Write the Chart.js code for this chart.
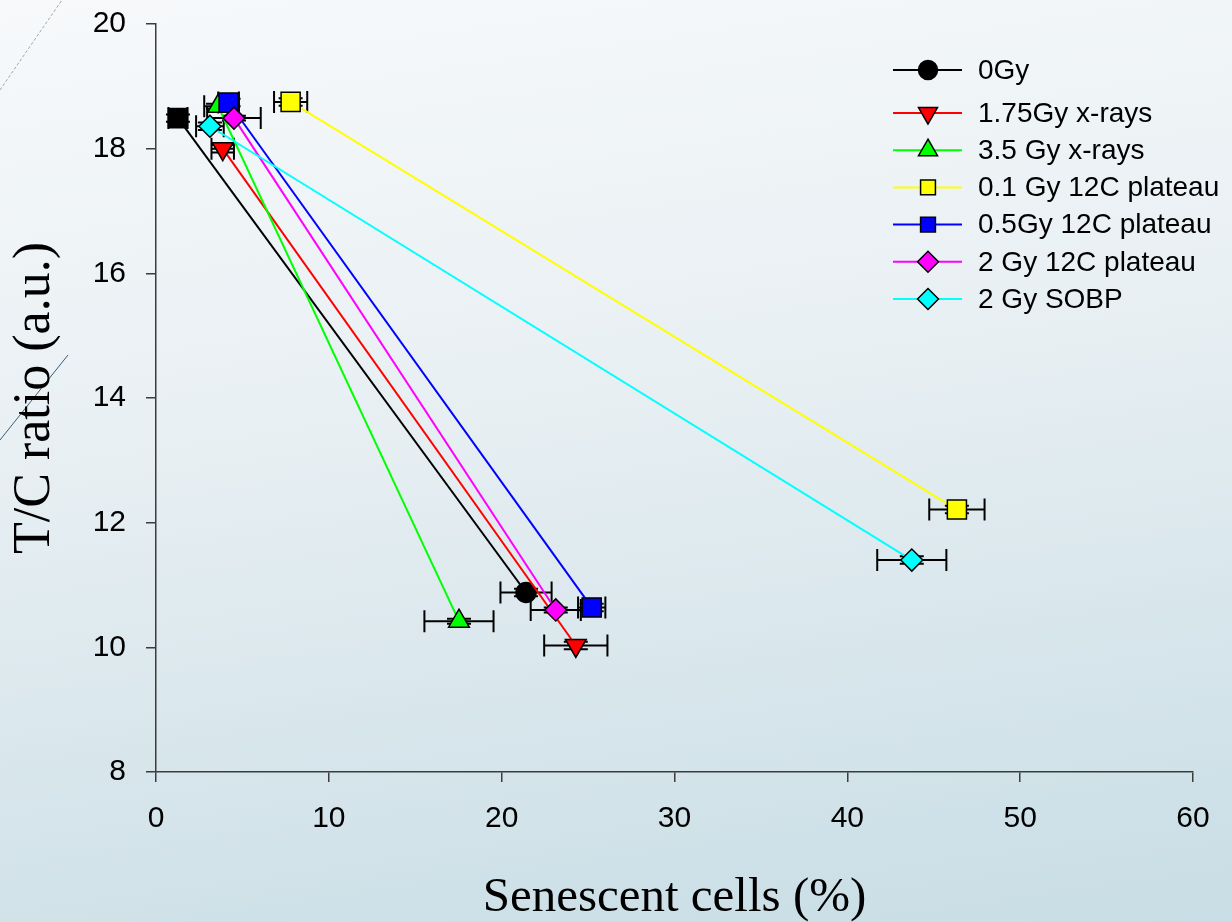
<!DOCTYPE html>
<html>
<head>
<meta charset="utf-8">
<title>T/C ratio vs senescent cells</title>
<script src="https://cdn.jsdelivr.net/npm/chart.js@4.4.1/dist/chart.umd.min.js"></script>
<style>
  html, body { margin: 0; padding: 0; }
  body {
    width: 1232px;
    height: 922px;
    overflow: hidden;
    background: linear-gradient(172deg, #f7f9fb 0%, #e9f0f3 40%, #c8dde5 100%);
  }
  canvas { display: block; }
</style>
</head>
<body>
<canvas id="tcChart" width="1232" height="922"></canvas>
<script>
// dose groups
const seriesNames = ['0Gy', '1.75Gy x-rays', '3.5 Gy x-rays', '0.1 Gy 12C plateau', '0.5Gy 12C plateau', '2 Gy 12C plateau', '2 Gy SOBP'];
const seriesColors = ['#000000', '#ff0000', '#00ff00', '#ffff00', '#0000ff', '#ff00ff', '#00ffff'];
const markerStyles = ['circle', 'triangle', 'triangle', 'rect', 'rect', 'rectRot', 'rectRot'];
const markerRotation = [0, 180, 0, 0, 0, 0, 0];

// early time point (x = senescent cells %, y = T/C ratio)
const senescentEarly = [1.27, 3.86, 3.59, 7.79, 4.20, 4.51, 3.12];
const ratioEarly = [18.49, 18.00, 18.68, 18.75, 18.74, 18.49, 18.36];
const senescentEarlyErr = [0.55, 0.65, 0.8, 0.96, 0.6, 1.55, 0.8];

// late time point
const senescentLate = [21.41, 24.29, 17.53, 46.34, 25.21, 23.13, 43.73];
const ratioLate = [10.88, 10.03, 10.42, 12.21, 10.64, 10.60, 11.40];
const senescentLateErr = [1.48, 1.83, 2.0, 1.6, 0.79, 1.45, 2.0];

// T/C ratio errors (small)
const ratioErr = [0.06, 0.06, 0.04, 0.06, 0.06, 0.04, 0.06];

const markerSize = { circle: 10, triangle: 12, rect: 13.5, rectRot: 11 };

const datasets = seriesNames.map((name, i) => ({
    label: name,
    data: [
        { x: senescentEarly[i], y: ratioEarly[i], xErr: senescentEarlyErr[i], yErr: ratioErr[i] },
        { x: senescentLate[i], y: ratioLate[i], xErr: senescentLateErr[i], yErr: ratioErr[i] }
    ],
    showLine: true,
    borderColor: seriesColors[i],
    borderWidth: 2,
    backgroundColor: seriesColors[i],
    pointBackgroundColor: seriesColors[i],
    pointBorderColor: '#000',
    pointBorderWidth: 1.5,
    // untreated control at the first time point is plotted as a square
    pointStyle: i === 0 ? ['rect', 'circle'] : markerStyles[i],
    pointRadius: i === 0 ? [markerSize.rect, markerSize.circle] : markerSize[markerStyles[i]],
    rotation: markerRotation[i],
    order: seriesNames.length - i
}));

// thin slide decoration lines on the left
const backdrop = {
    id: 'backdrop',
    beforeDraw(chart) {
        const ctx = chart.ctx;
        ctx.save();
        ctx.lineWidth = 1;
        ctx.strokeStyle = '#9aa9b4';
        ctx.setLineDash([3, 2]);
        ctx.beginPath();
        ctx.moveTo(0, 90);
        ctx.lineTo(62, 0);
        ctx.stroke();
        ctx.setLineDash([]);
        ctx.strokeStyle = '#3d5c74';
        ctx.beginPath();
        ctx.moveTo(0, 440);
        ctx.lineTo(68, 355);
        ctx.stroke();
        ctx.restore();
    }
};

// horizontal and vertical error bars with caps
const errorBars = {
    id: 'errorBars',
    beforeDatasetsDraw(chart) {
        const { ctx, scales: { x, y } } = chart;
        ctx.save();
        ctx.strokeStyle = '#000';
        ctx.lineWidth = 2;
        chart.data.datasets.forEach(ds => {
            ds.data.forEach(p => {
                const cx = x.getPixelForValue(p.x);
                const cy = y.getPixelForValue(p.y);
                const x0 = x.getPixelForValue(p.x - p.xErr);
                const x1 = x.getPixelForValue(p.x + p.xErr);
                const y0 = y.getPixelForValue(p.y - p.yErr);
                const y1 = y.getPixelForValue(p.y + p.yErr);
                ctx.beginPath();
                ctx.moveTo(x0, cy); ctx.lineTo(x1, cy);
                ctx.moveTo(x0, cy - 11); ctx.lineTo(x0, cy + 11);
                ctx.moveTo(x1, cy - 11); ctx.lineTo(x1, cy + 11);
                ctx.moveTo(cx, y0); ctx.lineTo(cx, y1);
                ctx.moveTo(cx - 12, y0); ctx.lineTo(cx + 12, y0);
                ctx.moveTo(cx - 12, y1); ctx.lineTo(cx + 12, y1);
                ctx.stroke();
            });
        });
        ctx.restore();
    }
};

// legend with a line sample through each marker
const lineLegend = {
    id: 'lineLegend',
    afterDraw(chart) {
        const ctx = chart.ctx;
        const legendRadius = { circle: 9.5, triangle: 11, rect: 10.5, rectRot: 10.5 };
        ctx.save();
        ctx.font = '28px "Liberation Sans", Arial, sans-serif';
        ctx.textBaseline = 'middle';
        chart.data.datasets.forEach((ds, i) => {
            const rowY = i === 0 ? 70 : 113 + (i - 1) * 37.2;
            ctx.strokeStyle = seriesColors[i];
            ctx.lineWidth = 2;
            ctx.beginPath();
            ctx.moveTo(893, rowY);
            ctx.lineTo(962, rowY);
            ctx.stroke();
            ctx.fillStyle = seriesColors[i];
            ctx.strokeStyle = '#000';
            ctx.lineWidth = 1.5;
            Chart.helpers.drawPoint(ctx, {
                pointStyle: markerStyles[i],
                rotation: markerRotation[i],
                radius: legendRadius[markerStyles[i]],
                borderWidth: 1.5
            }, 928, rowY);
            ctx.fillStyle = '#000';
            ctx.fillText(ds.label, 978, rowY + 1);
        });
        ctx.restore();
    }
};

const axisColor = '#3c3c3c';

new Chart(document.getElementById('tcChart'), {
    type: 'scatter',
    data: { datasets: datasets },
    options: {
        responsive: false,
        animation: false,
        layout: { padding: { top: 24, right: 39, left: 0, bottom: 0 } },
        plugins: {
            legend: { display: false },
            tooltip: { enabled: false }
        },
        scales: {
            x: {
                type: 'linear',
                min: 0,
                max: 60,
                ticks: {
                    stepSize: 10,
                    color: '#000',
                    padding: 19,
                    font: { family: '"Liberation Sans", Arial, sans-serif', size: 30 }
                },
                grid: { drawOnChartArea: false, tickLength: 10, color: axisColor, lineWidth: 1.5 },
                border: { color: axisColor, width: 1.5 },
                title: {
                    display: true,
                    text: 'Senescent cells (%)',
                    color: '#000',
                    padding: { top: 0, bottom: 2 },
                    font: { family: '"Liberation Serif", "Times New Roman", serif', size: 49, lineHeight: 0.9 }
                },
                afterFit(scale) { scale.height = 150; }
            },
            y: {
                type: 'linear',
                min: 8,
                max: 20,
                ticks: {
                    stepSize: 2,
                    color: '#000',
                    padding: 20,
                    font: { family: '"Liberation Sans", Arial, sans-serif', size: 30 }
                },
                grid: { drawOnChartArea: false, tickLength: 10, color: axisColor, lineWidth: 1.5 },
                border: { color: axisColor, width: 1.5 },
                title: {
                    display: true,
                    text: 'T/C ratio (a.u.)',
                    color: '#000',
                    padding: { top: 12, bottom: 0 },
                    font: { family: '"Liberation Serif", "Times New Roman", serif', size: 52, lineHeight: 0.9 }
                },
                afterFit(scale) {
                    scale.width = 156;
                    scale.paddingTop = 0;
                    scale.paddingBottom = 0;
                }
            }
        }
    },
    plugins: [backdrop, errorBars, lineLegend]
});
</script>
</body>
</html>
